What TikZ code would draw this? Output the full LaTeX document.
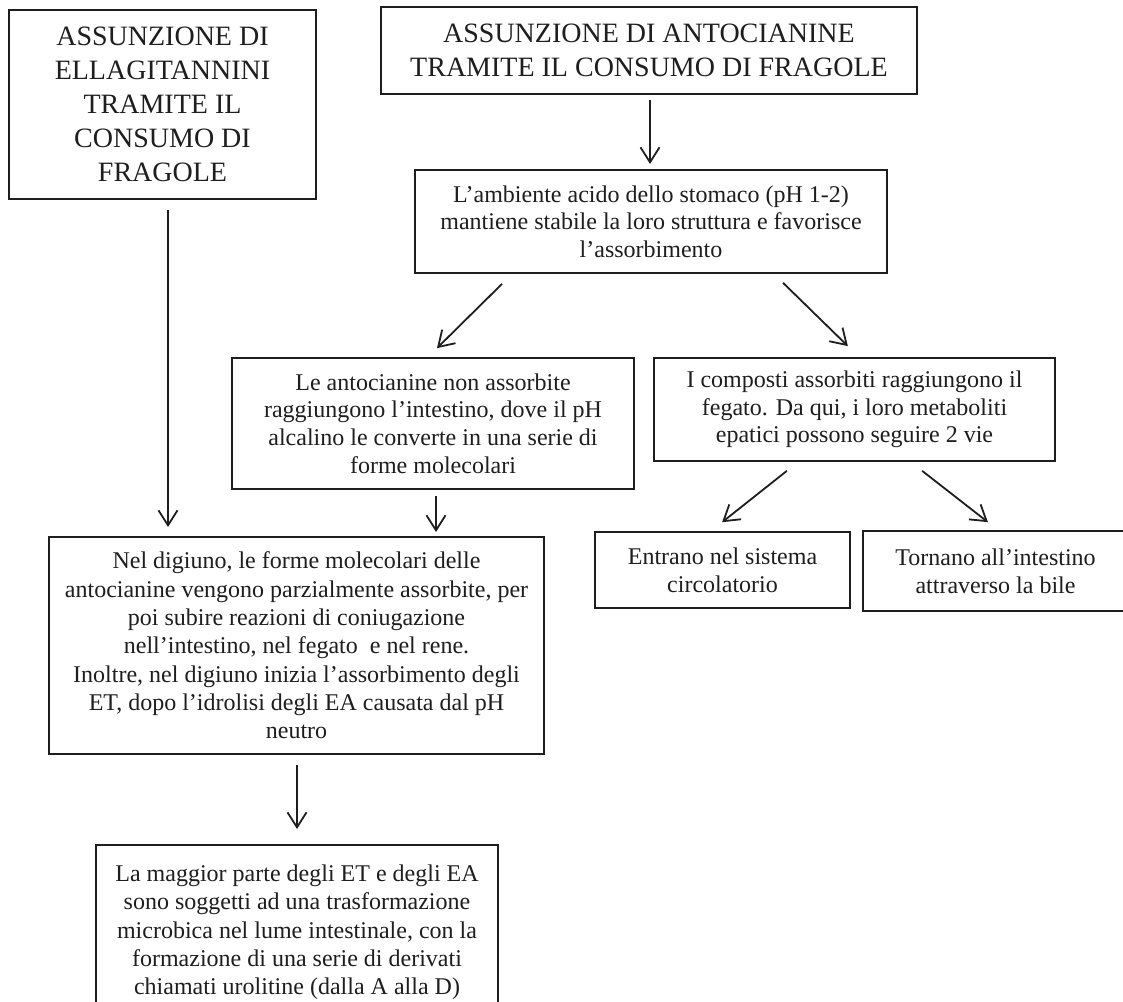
\documentclass[tikz,border=0pt]{standalone}
\usepackage{fontspec}
\setmainfont{Liberation Serif}
\usetikzlibrary{arrows.meta}
\definecolor{ink}{RGB}{30,30,30}
\newcommand\titlef{\fontsize{28}{34}\selectfont}
\newcommand\bodyf{\fontsize{24}{27.6}\selectfont}
\newcommand\bodyfb{\fontsize{24}{28.3}\selectfont}
\begin{document}
\begin{tikzpicture}[x=1pt,y=-1pt,
  box/.style={draw=ink, line width=2pt, rectangle, inner sep=0pt, align=center, text=ink},
  tbox/.style={box, font=\titlef},
  bbox/.style={box, font=\bodyf},
  arr/.style={draw=ink, line width=1.8pt, -{Straight Barb[length=15pt,width=19pt]}}]
\fill[white] (0,0) rectangle (1123,1001);
\useasboundingbox (0,0) rectangle (1123,1001);

\node[tbox, minimum width=307pt, minimum height=189pt] (A) at (162.5,104.5)
  {ASSUNZIONE DI\\ELLAGITANNINI\\TRAMITE IL\\CONSUMO DI\\FRAGOLE};
\node[tbox, minimum width=536pt, minimum height=87pt] (B) at (649,50.5)
  {ASSUNZIONE DI ANTOCIANINE\\TRAMITE IL CONSUMO DI FRAGOLE};
\node[bbox, minimum width=472pt, minimum height=103pt] (C) at (651,221.5)
  {L’ambiente acido dello stomaco (pH 1-2)\\mantiene stabile la loro struttura e favorisce\\l’assorbimento};
\node[bbox, minimum width=402pt, minimum height=131pt] (D) at (433,423.5)
  {Le antocianine non assorbite\\raggiungono l’intestino, dove il pH\\alcalino le converte in una serie di\\forme molecolari};
\node[bbox, minimum width=401pt, minimum height=103pt] (E) at (854.5,409.5)
  {I composti assorbiti raggiungono il\\fegato. Da qui, i loro metaboliti\\epatici possono seguire 2 vie};
\node[bbox, font=\bodyfb, minimum width=495pt, minimum height=217pt] (F) at (296.5,645.5)
  {Nel digiuno, le forme molecolari delle\\antocianine vengono parzialmente assorbite, per\\poi subire reazioni di coniugazione\\nell’intestino, nel fegato\ \ e nel rene.\\Inoltre, nel digiuno inizia l’assorbimento degli\\ET, dopo l’idrolisi degli EA causata dal pH\\neutro};
\node[bbox, font=\bodyfb, minimum width=402pt, minimum height=175pt] (G) at (297,932.5)
  {La maggior parte degli ET e degli EA\\sono soggetti ad una trasformazione\\microbica nel lume intestinale, con la\\formazione di una serie di derivati\\chiamati urolitine (dalla A alla D)};
\node[bbox, minimum width=255pt, minimum height=76pt] (H) at (722.5,570)
  {Entrano nel sistema\\circolatorio};
\node[bbox, minimum width=265pt, minimum height=80pt] (I) at (995.5,571)
  {Tornano all’intestino\\attraverso la bile};

\draw[arr, shorten <=10pt, shorten >=9pt] ([xshift=5.5pt]A.south) -- ([xshift=5.5pt]A.south |- F.north);
\draw[arr, shorten <=5pt, shorten >=5pt] ([xshift=1pt]B.south) -- ([xshift=1pt]B.south |- C.north);
\draw[arr, shorten <=14pt, shorten >=12.6pt] ([xshift=-139pt]C.south) -- ([xshift=-5pt]D.north);
\draw[arr, shorten <=12.7pt, shorten >=15.6pt] ([xshift=123pt]C.south) -- ([xshift=4.5pt]E.north);
\draw[arr, shorten <=6pt, shorten >=4pt] ([xshift=3pt]D.south) -- ([xshift=3pt]D.south |- F.north);
\draw[arr, shorten <=10pt, shorten >=15pt] ([xshift=0.5pt]F.south) -- ([xshift=0.5pt]F.south |- G.north);
\draw[arr, shorten <=14.2pt, shorten >=14.2pt] ([xshift=-56.5pt]E.south) -- ([xshift=-11.5pt]H.north);
\draw[arr, shorten <=14.4pt, shorten >=12.8pt] ([xshift=56.3pt]E.south) -- ([xshift=2.5pt]I.north);
\end{tikzpicture}
\end{document}
